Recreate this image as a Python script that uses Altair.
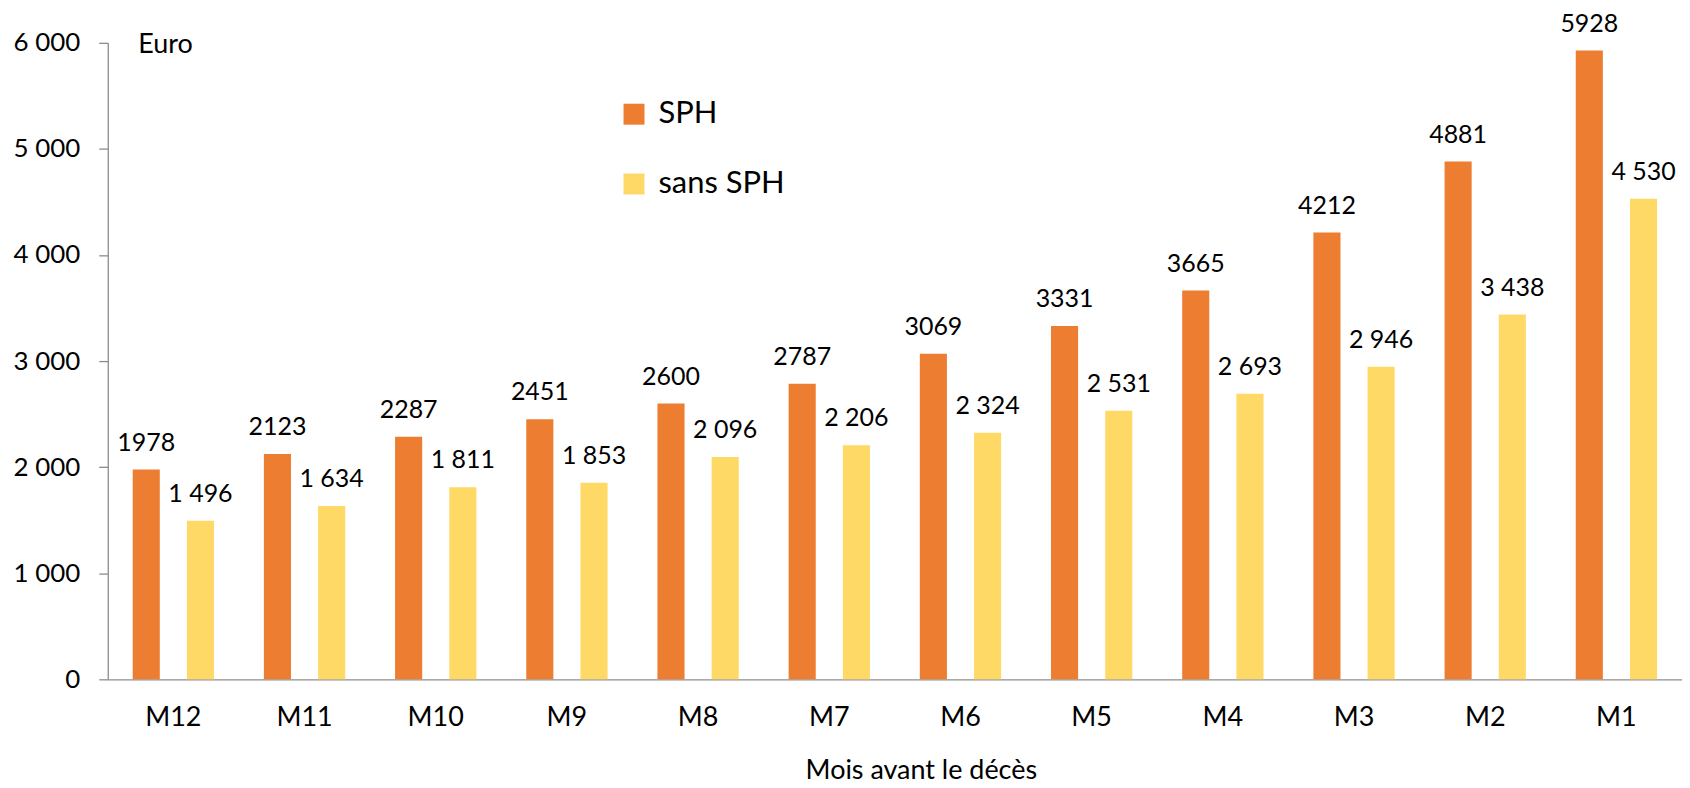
import altair as alt
import pandas as pd

months = ["M12", "M11", "M10", "M9", "M8", "M7", "M6", "M5", "M4", "M3", "M2", "M1"]
sph = [1978, 2123, 2287, 2451, 2600, 2787, 3069, 3331, 3665, 4212, 4881, 5928]
sans_sph = [1496, 1634, 1811, 1853, 2096, 2206, 2324, 2531, 2693, 2946, 3438, 4530]
series = ["SPH", "sans SPH"]
colors = ["#ED7D31", "#FFD966"]
y_ticks = [0, 1000, 2000, 3000, 4000, 5000, 6000]

rows = []
for m, a, b in zip(months, sph, sans_sph):
    rows.append({"mois": m, "serie": "SPH", "valeur": a, "label": str(a)})
    rows.append({"mois": m, "serie": "sans SPH", "valeur": b,
                 "label": f"{b:,}".replace(",", " ")})
df = pd.DataFrame(rows)

FONT = "Lato"
GREY = "#8C8C8C"

x = alt.X(
    "mois:N", sort=months,
    scale=alt.Scale(paddingInner=0, paddingOuter=0),
    axis=alt.Axis(
        title="Mois avant le décès", labelAngle=0, ticks=False, tickSize=0,
        labelPadding=25, labelFontSize=27, labelColor="black", labelFont=FONT,
        labelBaseline="top",
        titleFont=FONT, titleFontSize=27, titleFontWeight="normal", titleColor="black",
        titleX=815, titleY=99, titleAlign="center", titleBaseline="alphabetic",
        domainColor=GREY, domainWidth=1.3,
    ),
)
xo = alt.XOffset("serie:N", sort=series,
                 scale=alt.Scale(paddingInner=0.5, paddingOuter=0.46))
y = alt.Y(
    "valeur:Q",
    scale=alt.Scale(domain=[0, 6000], nice=False, zero=True),
    axis=alt.Axis(
        values=y_ticks, grid=False,
        labelExpr="replace(format(datum.value, ','), ',', ' ')",
        labelFontSize=26, labelFont=FONT, labelColor="black", labelPadding=19,
        tickSize=9, tickColor=GREY, tickWidth=1.3, domainColor=GREY, domainWidth=1.3,
        title="Euro", titleAngle=0, titleX=30, titleY=2, titleAlign="left",
        titleBaseline="middle", titleFont=FONT, titleFontSize=27,
        titleFontWeight="normal", titleColor="black",
    ),
)

bars = alt.Chart(df).mark_bar().encode(
    x=x, xOffset=xo, y=y,
    color=alt.Color(
        "serie:N", sort=series,
        scale=alt.Scale(domain=series, range=colors),
        legend=alt.Legend(
            title=None, orient="none", legendX=512, legendY=56, padding=0,
            symbolType="square", symbolSize=441, symbolStrokeWidth=0,
            symbolOpacity=1,
            labelFont=FONT, labelFontSize=31, labelColor="black", labelOffset=9,
            rowPadding=38, labelLimit=400,
        ),
    ),
)

labels = alt.Chart(df).mark_text(
    font=FONT, fontSize=25, color="black", baseline="alphabetic", dy=-19
).encode(x=x, xOffset=xo, y=y, text="label:N")

chart = (
    alt.layer(bars, labels)
    .properties(
        width=1578, height=638,
        autosize=alt.AutoSizeParams(type="none"),
        padding={"left": 100, "top": 34, "right": 0, "bottom": 106},
        background="white",
    )
    .configure_view(stroke=None)
)

chart.save("out.html", embed_options={"renderer": "svg", "actions": False})
